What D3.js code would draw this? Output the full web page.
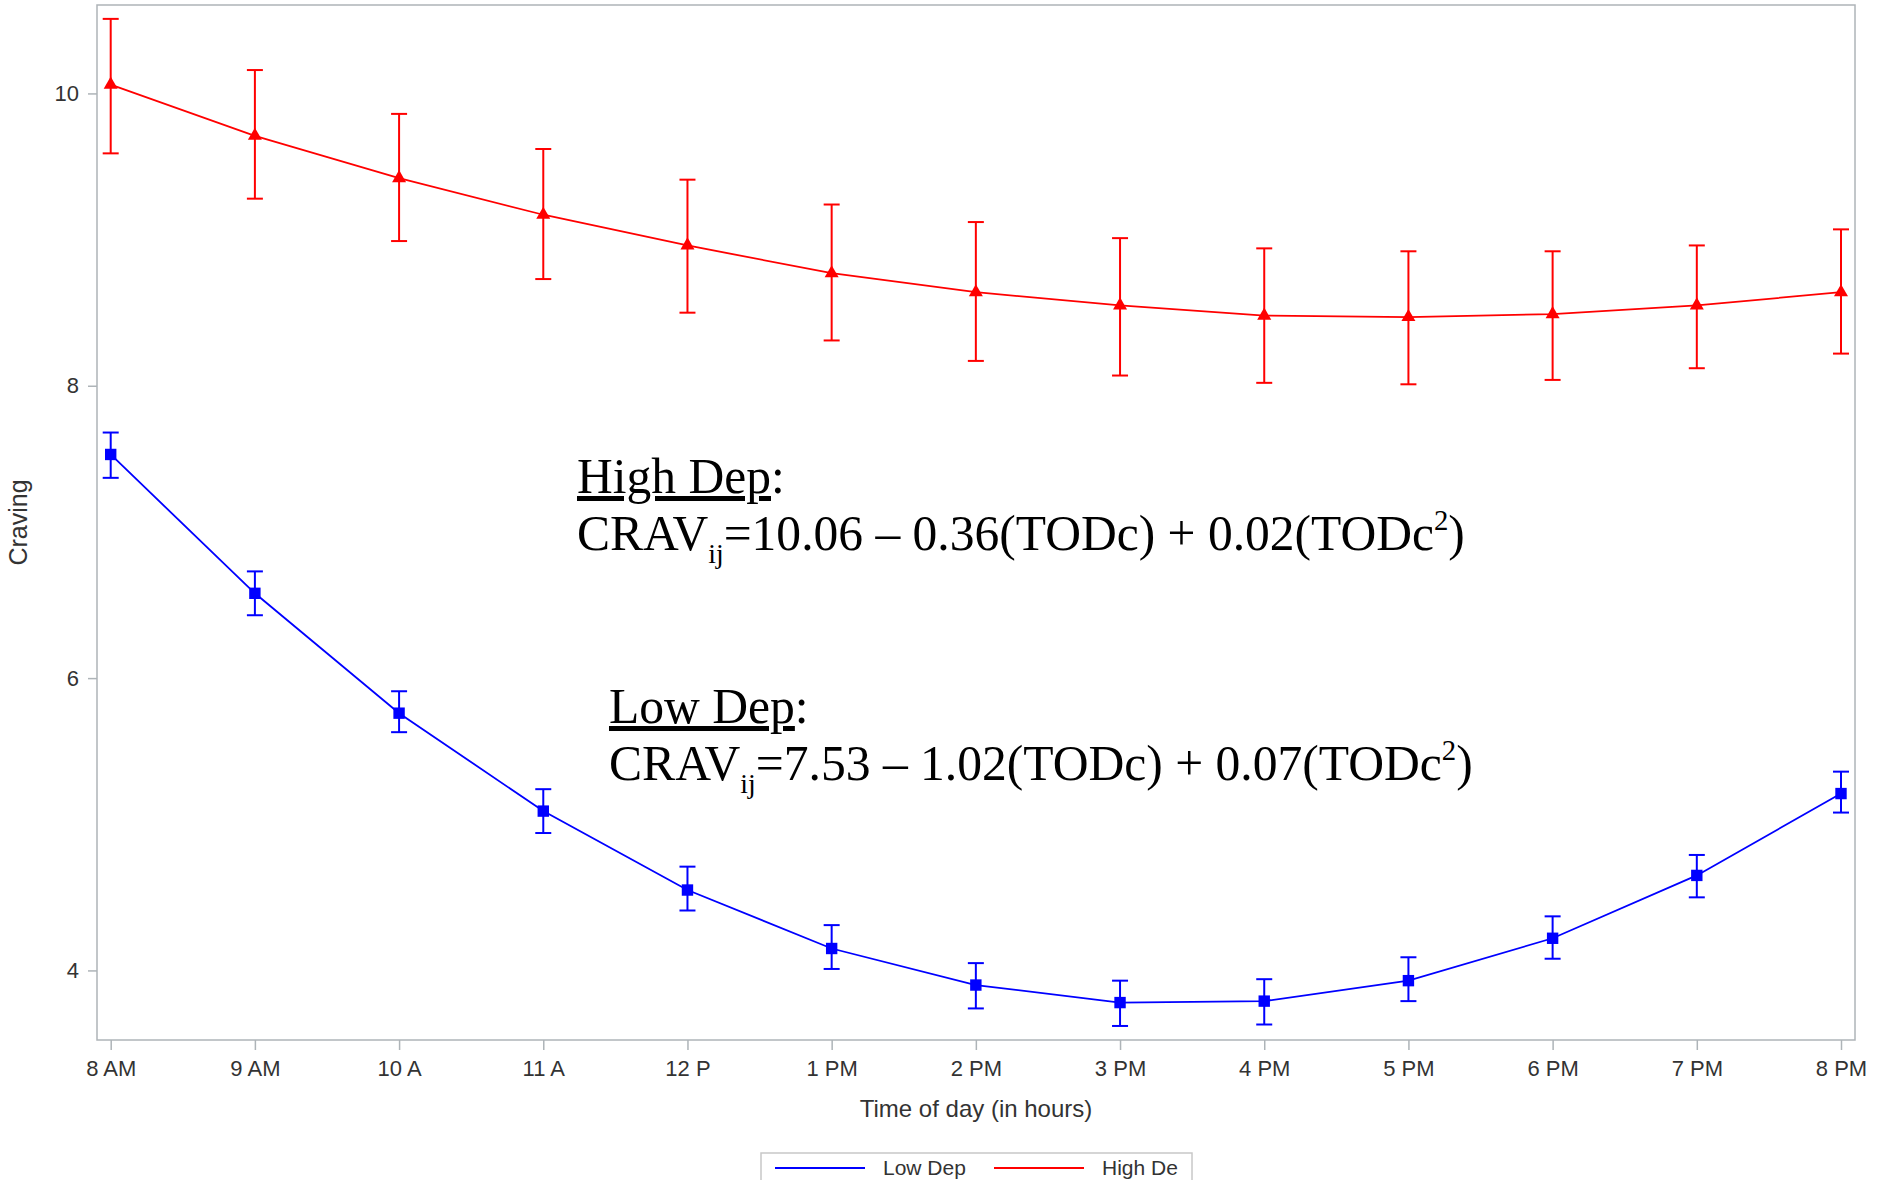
<!DOCTYPE html>
<html>
<head>
<meta charset="utf-8">
<script src="https://cdn.jsdelivr.net/npm/d3@7"></script>
<style>
  body { margin: 0; background: #fff; }
  .tick text { fill: #333; font-family: "Liberation Sans", Arial, sans-serif; }
  .eq { font-family: "Book Antiqua", "Palatino Linotype", "Liberation Serif", serif; fill: #000; }
</style>
</head>
<body>
<div id="wrapper"></div>
<script>
// 1. Data

const times = ["8 AM", "9 AM", "10 A", "11 A", "12 P", "1 PM", "2 PM", "3 PM", "4 PM", "5 PM", "6 PM", "7 PM", "8 PM"]

const lowMean  = [7.53, 6.58, 5.76, 5.09, 4.55, 4.15, 3.90, 3.78, 3.79, 3.93, 4.22, 4.65, 5.21]
const lowLower = [7.37, 6.43, 5.63, 4.94, 4.41, 4.01, 3.74, 3.62, 3.63, 3.79, 4.08, 4.50, 5.08]
const lowUpper = [7.68, 6.73, 5.91, 5.24, 4.71, 4.31, 4.05, 3.93, 3.94, 4.09, 4.37, 4.79, 5.36]

const highMean  = [10.06, 9.71, 9.42, 9.17, 8.96, 8.77, 8.64, 8.55, 8.48, 8.47, 8.49, 8.55, 8.64]
const highLower = [9.59, 9.28, 8.99, 8.73, 8.50, 8.31, 8.17, 8.07, 8.02, 8.01, 8.04, 8.12, 8.22]
const highUpper = [10.51, 10.16, 9.86, 9.62, 9.41, 9.24, 9.12, 9.01, 8.94, 8.92, 8.92, 8.96, 9.07]

const yTicks = [4, 6, 8, 10]

const seriesNames = ["Low Dep", "High De"]

function drawChart() {

  const makeRows = (mean, lower, upper) => times.map((t, i) => ({
    time: t, mean: mean[i], lower: lower[i], upper: upper[i],
  }))

  const series = [
    { name: "Low Dep", color: "#0000ff", symbol: d3.symbolSquare, size: 130, rows: makeRows(lowMean, lowLower, lowUpper) },
    { name: "High Dep", color: "#ff0000", symbol: d3.symbolTriangle, size: 85, rows: makeRows(highMean, highLower, highUpper) },
  ]

  const xAccessor = d => d.time
  const yAccessor = d => d.mean

  // 2. Dimensions

  let dimensions = {
    width: 1877,
    height: 1180,
    margin: {
      top: 5,
      right: 22,
      bottom: 140,
      left: 97,
    },
  }
  dimensions.boundedWidth = dimensions.width - dimensions.margin.left - dimensions.margin.right
  dimensions.boundedHeight = dimensions.height - dimensions.margin.top - dimensions.margin.bottom

  // 3. Canvas

  const wrapper = d3.select("#wrapper")
    .append("svg")
      .attr("width", dimensions.width)
      .attr("height", dimensions.height)
      .style("display", "block")

  wrapper.append("rect")
      .attr("width", dimensions.width)
      .attr("height", dimensions.height)
      .attr("fill", "#fff")

  const bounds = wrapper.append("g")
      .attr("transform", `translate(${dimensions.margin.left}, ${dimensions.margin.top})`)

  // 4. Scales

  const xScale = d3.scalePoint()
    .domain(times)
    .range([13.7, dimensions.boundedWidth - 14])

  const yScale = d3.scaleLinear()
    .domain([3.524, 10.605])
    .range([dimensions.boundedHeight, 0])

  // 5. Peripherals (frame + axes)

  const frameColor = "#aeb4b8"

  bounds.append("rect")
      .attr("width", dimensions.boundedWidth)
      .attr("height", dimensions.boundedHeight)
      .attr("fill", "none")
      .attr("stroke", frameColor)
      .attr("stroke-width", 1.5)

  const xAxisGenerator = d3.axisBottom(xScale)
    .tickSize(10)
    .tickPadding(10)

  const xAxis = bounds.append("g")
      .attr("transform", `translate(0, ${dimensions.boundedHeight})`)
      .call(xAxisGenerator)
  xAxis.select(".domain").remove()
  xAxis.selectAll(".tick line").attr("stroke", frameColor).attr("stroke-width", 1.5)
  xAxis.selectAll(".tick text").style("font-size", "22px")

  const yAxisGenerator = d3.axisLeft(yScale)
    .tickValues(yTicks)
    .tickSize(9)
    .tickPadding(9)

  const yAxis = bounds.append("g")
      .call(yAxisGenerator)
  yAxis.select(".domain").remove()
  yAxis.selectAll(".tick line").attr("stroke", frameColor).attr("stroke-width", 1.5)
  yAxis.selectAll(".tick text").style("font-size", "22px")

  wrapper.append("text")
      .attr("x", dimensions.margin.left + dimensions.boundedWidth / 2)
      .attr("y", 1117)
      .attr("text-anchor", "middle")
      .style("font-family", "'Liberation Sans', Arial, sans-serif")
      .style("font-size", "24px")
      .attr("fill", "#333")
      .text("Time of day (in hours)")

  wrapper.append("text")
      .attr("transform", `translate(27, ${dimensions.margin.top + dimensions.boundedHeight / 2}) rotate(-90)`)
      .attr("text-anchor", "middle")
      .style("font-family", "'Liberation Sans', Arial, sans-serif")
      .style("font-size", "25px")
      .attr("fill", "#333")
      .text("Craving")

  // 6. Data

  const lineGenerator = d3.line()
    .x(d => xScale(xAccessor(d)))
    .y(d => yScale(yAccessor(d)))

  const capHalf = 8

  series.forEach(s => {
    const g = bounds.append("g")

    g.append("path")
        .attr("d", lineGenerator(s.rows))
        .attr("fill", "none")
        .attr("stroke", s.color)
        .attr("stroke-width", 1.8)

    const bars = g.selectAll(".err")
      .data(s.rows)
      .enter().append("g")
        .attr("class", "err")
        .attr("stroke", s.color)
        .attr("stroke-width", 2)

    bars.append("line")
        .attr("x1", d => xScale(xAccessor(d)))
        .attr("x2", d => xScale(xAccessor(d)))
        .attr("y1", d => yScale(d.lower))
        .attr("y2", d => yScale(d.upper))
    bars.append("line")
        .attr("x1", d => xScale(xAccessor(d)) - capHalf)
        .attr("x2", d => xScale(xAccessor(d)) + capHalf)
        .attr("y1", d => yScale(d.upper))
        .attr("y2", d => yScale(d.upper))
    bars.append("line")
        .attr("x1", d => xScale(xAccessor(d)) - capHalf)
        .attr("x2", d => xScale(xAccessor(d)) + capHalf)
        .attr("y1", d => yScale(d.lower))
        .attr("y2", d => yScale(d.lower))

    g.selectAll(".marker")
      .data(s.rows)
      .enter().append("path")
        .attr("class", "marker")
        .attr("d", d3.symbol(s.symbol, s.size))
        .attr("transform", d => `translate(${xScale(xAccessor(d))}, ${yScale(yAccessor(d))})`)
        .attr("fill", s.color)
  })

  // 7. Equation annotations

  const drawEquation = (x, yTitle, yEq, title, eqText, targetWidth) => {
    const g = wrapper.append("g")

    const titleText = g.append("text")
        .attr("class", "eq")
        .attr("x", x)
        .attr("y", yTitle)
        .style("font-size", "50px")
    titleText.append("tspan")
        .style("text-decoration", "underline")
        .style("text-decoration-thickness", "3px")
        .text(title)
    titleText.append("tspan").text(":")

    const eq = g.append("text")
        .attr("class", "eq")
        .attr("x", x)
        .attr("y", yEq)
        .style("font-size", "50px")
    eq.append("tspan").text("CRAV")
    eq.append("tspan").attr("dy", 13).style("font-size", "28px").text("ij")
    eq.append("tspan").attr("dy", -13).text(eqText)
    eq.append("tspan").attr("dy", -20).style("font-size", "29px").text("2")
    eq.append("tspan").attr("dy", 20).text(")")

    const k = targetWidth / eq.node().getComputedTextLength()
    g.attr("transform", `translate(${x}, 0) scale(${k}, 1) translate(${-x}, 0)`)
  }

  drawEquation(577, 493, 550, "High Dep", "=10.06 \u2013 0.36(TODc) + 0.02(TODc", 888)
  drawEquation(609, 723, 780, "Low Dep", "=7.53 \u2013 1.02(TODc) + 0.07(TODc", 864)

  // 8. Legend

  const legend = wrapper.append("g")
  legend.append("rect")
      .attr("x", 761)
      .attr("y", 1153)
      .attr("width", 431)
      .attr("height", 40)
      .attr("fill", "#fff")
      .attr("stroke", "#c8c8c8")
      .attr("stroke-width", 1.5)

  const legendItems = [
    { label: seriesNames[0], color: "#0000ff", x: 775 },
    { label: seriesNames[1], color: "#ff0000", x: 994 },
  ]
  const item = legend.selectAll(".item")
    .data(legendItems)
    .enter().append("g")
      .attr("transform", d => `translate(${d.x}, 1168)`)
  item.append("line")
      .attr("x2", 90)
      .attr("stroke", d => d.color)
      .attr("stroke-width", 1.8)
  item.append("text")
      .attr("x", 108)
      .attr("y", 7)
      .style("font-family", "'Liberation Sans', Arial, sans-serif")
      .style("font-size", "21px")
      .attr("fill", "#333")
      .text(d => d.label)
}
drawChart()
</script>
</body>
</html>
